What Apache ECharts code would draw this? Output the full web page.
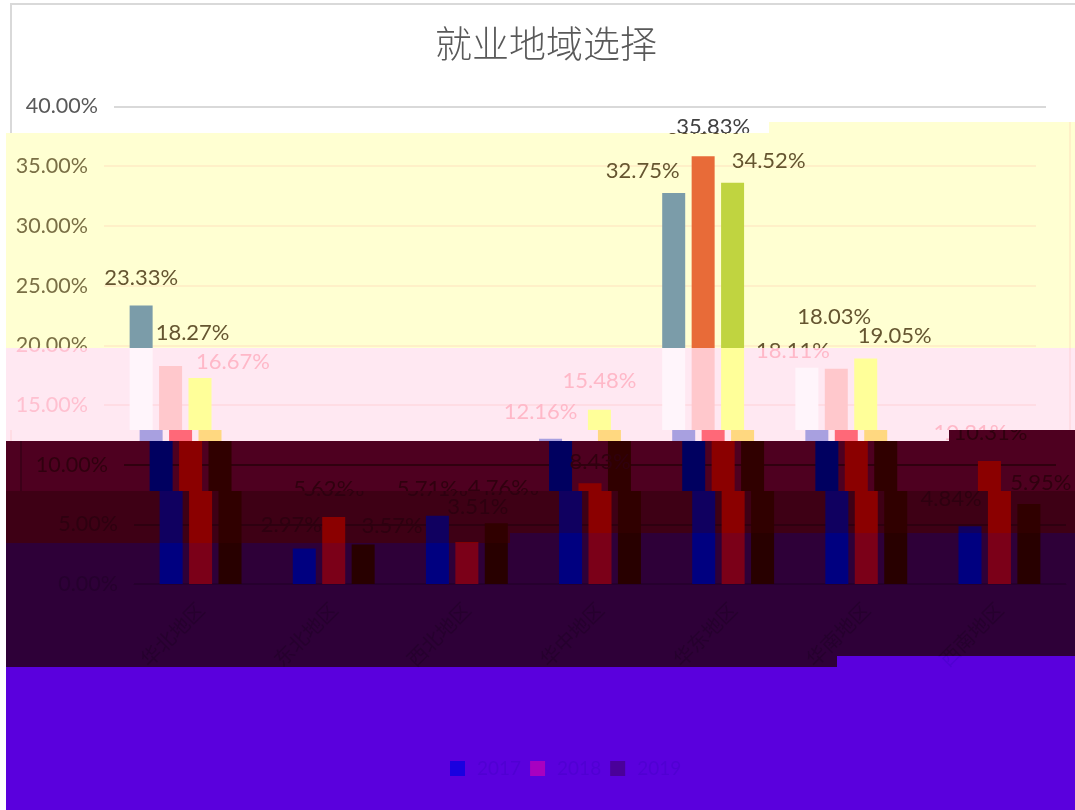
<!DOCTYPE html>
<html>
<head>
<meta charset="utf-8">
<title>就业地域选择</title>
<script src="https://cdn.jsdelivr.net/npm/echarts@6/dist/echarts.min.js"></script>
<style>
html,body{margin:0;padding:0;background:#fff;}
#page{position:relative;width:1075px;height:810px;overflow:hidden;background:#fff;}
.band{position:absolute;left:0;top:0;width:1075px;height:810px;overflow:hidden;}
.band div.plot{position:absolute;top:0;width:1110px;height:810px;}
</style>
</head>
<body>
<div id="page"></div>
<script>
const titleText = '就业地域选择';
const categories = ['华北地区', '东北地区', '西北地区', '华中地区', '华东地区', '华南地区', '西南地区'];
const seriesNames = ['2017', '2018', '2019'];
// 柱高按图上量的
const values2017 = [23.33, 2.97, 5.71, 12.16, 32.75, 18.11, 4.84];
const values2018 = [18.27, 5.62, 3.51, 8.43, 35.83, 18.03, 10.31];
const values2019 = [17.25, 3.31, 5.09, 14.6, 33.62, 18.9, 6.7];
const allValues = [values2017, values2018, values2019];
// 图上印的标签，2019 和柱高对不上，照图写
const labels2017 = ['23.33%', '2.97%', '5.71%', '12.16%', '32.75%', '18.11%', '4.84%'];
const labels2018 = ['18.27%', '5.62%', '3.51%', '8.43%', '35.83%', '18.03%', '10.31%'];
const labels2019 = ['16.67%', '3.57%', '4.76%', '15.48%', '34.52%', '19.05%', '5.95%'];
const allLabels = [labels2017, labels2018, labels2019];
const tickMax = 40;
const tickStep = 5;

// 标签相对柱顶的偏移 [dx, dy]
const labelShift = [
    [[0,-12],[-13,-8],[0,-11],[0,-11],[-31,-6],[-14,-1],[-19,-11]],
    [[22,-17],[0,-12],[11,-19],[10,-5],[0,-13],[-2,-36],[1,-12]],
    [[33,0],[29,-3],[12,-19],[0,-13],[36,-6],[29,-6],[22,-5]]
];

// 图片分成几段，每段错位和颜色都不一样
const bands = [
    {clip:[[0,0],[1075,0],[1075,122],[769,122],[769,133],[0,133]], dx:0, bg:'#ffffff', tick:'#595959', text:'#404040', grid:'#d9d9d9', frame:'#d9d9d9', bars:['#7b9ca9','#e86b38','#c0d440']},
    {clip:[[6,133],[769,133],[769,122],[1075,122],[1075,348],[6,348]], dx:-10, bg:'#ffffd2', tick:'#7a6f45', text:'#655530', grid:'#fff0c8', frame:'#fff0c8', bars:['#7b9ca9','#e86b38','#c0d440']},
    {clip:[[6,348],[1075,348],[1075,430],[6,430]], dx:-10, bg:'#ffe8f2', tick:'#ffc0d0', text:'#ffb8c8', grid:'#ffdce4', frame:'#ffdce4', bars:['#fff5fb','#ffc8cc','#ffff99']},
    {clip:[[6,430],[949,430],[949,441],[6,441]], dx:0, bg:'#ffe8f2', tick:'#ffc0d0', text:'#ffb8c8', grid:'#ffdce4', frame:'#ffdce4', bars:['#a8a0e0','#ff6878','#ffd880']},
    {clip:[[6,441],[949,441],[949,430],[1075,430],[1075,491],[6,491]], dx:10, bg:'#4e0020', tick:'#30000f', text:'#30000f', grid:'#30000f', frame:'#3c0018', bars:['#000060','#8b0000','#300000']},
    {clip:[[6,491],[1075,491],[1075,533],[510,533],[510,543],[6,543]], dx:20, bg:'#3e0015', tick:'#2e0010', text:'#2e0010', grid:'#2e0010', frame:'#3e0015', bars:['#100060','#8b0000','#300000']},
    {clip:[[6,543],[510,543],[510,533],[1075,533],[1075,656],[837,656],[837,667],[6,667]], dx:20, bg:'#2e0038', tick:'#26002e', text:'#26002e', grid:'#26002e', frame:'#2e0038', bars:['#000080','#7b0018','#280000']},
    {clip:[[6,667],[837,667],[837,656],[1075,656],[1075,810],[6,810]], dx:20, bg:'#5a00dd', tick:'#5000d2', text:'#5000d2', grid:'#5a00dd', frame:'#5a00dd', bars:['#1a00e0','#a800c0','#4a009a'], legend:true}
];

const numFont = 'Lato, "Noto Sans", sans-serif';
const cjkFont = '"Noto Sans CJK SC", sans-serif';

function buildOption(band) {
    return {
        animation: false,
        backgroundColor: 'transparent',
        title: {
            text: titleText,
            left: 541,
            top: 20,
            textAlign: 'center',
            textStyle: {color: band.tick, fontFamily: cjkFont, fontSize: 37, fontWeight: 300}
        },
        legend: {
            show: !!band.legend,
            left: 445 - band.dx,
            top: 754,
            itemWidth: 15,
            itemHeight: 15,
            itemGap: 9,
            icon: 'rect',
            textStyle: {color: band.text, fontFamily: numFont, fontSize: 19, padding: [0, 0, 0, 7]},
            data: seriesNames
        },
        graphic: [{
            type: 'rect',
            silent: true,
            shape: {x: 11, y: 4, width: 1069, height: 830},
            style: {fill: 'none', stroke: band.frame, lineWidth: 2}
        }],
        grid: {left: 114, right: 64, top: 106.5, bottom: 226},
        xAxis: {
            type: 'category',
            data: categories,
            axisTick: {show: false},
            axisLine: {lineStyle: {color: band.grid}},
            axisLabel: {color: band.tick, fontFamily: cjkFont, fontSize: 20, rotate: 45, margin: 22}
        },
        yAxis: {
            type: 'value',
            min: 0,
            max: tickMax,
            interval: tickStep,
            axisLine: {show: false},
            axisTick: {show: false},
            splitLine: {lineStyle: {color: band.grid, width: 2}},
            axisLabel: {
                color: band.tick,
                fontFamily: numFont,
                fontSize: 21.5,
                margin: 16,
                formatter: function (v) { return v.toFixed(2) + '%'; }
            }
        },
        series: seriesNames.map(function (name, s) {
            return {
                name: name,
                type: 'bar',
                barWidth: 23,
                barGap: '28%',
                itemStyle: {color: band.bars[s]},
                label: {
                    show: true,
                    position: 'top',
                    color: band.text,
                    fontFamily: numFont,
                    fontSize: 22,
                    formatter: function (p) { return allLabels[s][p.dataIndex]; }
                },
                data: allValues[s].map(function (v, i) {
                    return {value: v, label: {offset: labelShift[s][i]}};
                })
            };
        })
    };
}

const page = document.getElementById('page');
bands.forEach(function (band) {
    const wrap = document.createElement('div');
    wrap.className = 'band';
    wrap.style.background = band.bg;
    wrap.style.clipPath = 'polygon(' + band.clip.map(function (p) { return p[0] + 'px ' + p[1] + 'px'; }).join(',') + ')';
    const plot = document.createElement('div');
    plot.className = 'plot';
    plot.style.left = band.dx + 'px';
    wrap.appendChild(plot);
    page.appendChild(wrap);
    echarts.init(plot).setOption(buildOption(band));
});
</script>
</body>
</html>
